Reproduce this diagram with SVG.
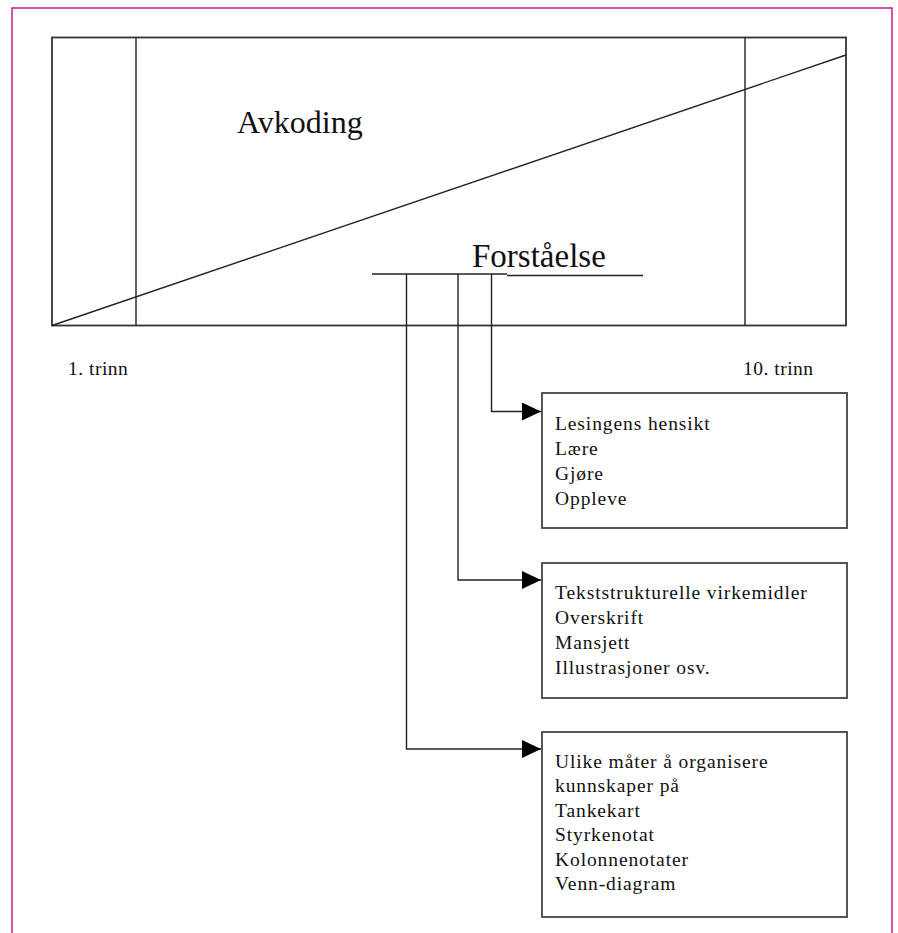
<svg xmlns="http://www.w3.org/2000/svg" width="898" height="933" viewBox="0 0 898 933">
<style>
.ln{stroke:#222;stroke-width:1.4;fill:none}
.bx{stroke:#444;stroke-width:1.8;fill:#fff}
text{font-family:'Liberation Serif','DejaVu Serif',serif;fill:#111}
.bt{font-size:19.5px;letter-spacing:0.9px}
</style>
<defs>
<marker id="ah" markerWidth="20" markerHeight="18" refX="19" refY="9" markerUnits="userSpaceOnUse" orient="auto">
<path d="M0,0 L19,9 L0,18 Z" fill="#000"/>
</marker>
</defs>
<rect width="898" height="933" fill="#fff"/>
<path d="M12,933 V8 H892 V933" stroke="#d0169a" stroke-width="1.5" fill="none"/>
<g id="scale">
<rect x="52" y="37.5" width="794" height="288" fill="none" stroke="#333" stroke-width="1.8"/>
<line class="ln" x1="136" y1="37.5" x2="136" y2="325.5"/>
<line class="ln" x1="745" y1="37.5" x2="745" y2="325.5"/>
<line class="ln" x1="52" y1="325.5" x2="846" y2="55"/>
<text x="237" y="133" font-size="32" font-family="Liberation Serif, serif">Avkoding</text>
<text x="472" y="267" font-size="33" font-family="Liberation Serif, serif">Forståelse</text>
<line class="ln" x1="372" y1="274" x2="507" y2="274"/>
<line class="ln" x1="507" y1="275.5" x2="643" y2="275.5"/>
<text x="68" y="375" font-size="19.5" letter-spacing="0.5" font-family="Liberation Serif, serif">1. trinn</text>
<text x="743" y="375" font-size="19.5" letter-spacing="0.5" font-family="Liberation Serif, serif">10. trinn</text>
</g>
<g id="connectors">
<path class="ln" d="M491.5,274 V411.5 H541" marker-end="url(#ah)"/>
<path class="ln" d="M458,274 V580 H541" marker-end="url(#ah)"/>
<path class="ln" d="M406.5,274 V749 H541" marker-end="url(#ah)"/>
</g>
<g id="box1" font-family="Liberation Serif, serif">
<rect class="bx" x="542" y="393" width="305" height="135"/>
<text class="bt" x="555" y="430">Lesingens hensikt</text>
<text class="bt" x="555" y="455">Lære</text>
<text class="bt" x="555" y="480">Gjøre</text>
<text class="bt" x="555" y="505">Oppleve</text>
</g>
<g id="box2" font-family="Liberation Serif, serif">
<rect class="bx" x="542" y="563" width="305" height="135"/>
<text class="bt" x="555" y="599">Tekststrukturelle virkemidler</text>
<text class="bt" x="555" y="624">Overskrift</text>
<text class="bt" x="555" y="649">Mansjett</text>
<text class="bt" x="555" y="674">Illustrasjoner osv.</text>
</g>
<g id="box3" font-family="Liberation Serif, serif">
<rect class="bx" x="542" y="732" width="305" height="185"/>
<text class="bt" x="555" y="768">Ulike måter å organisere</text>
<text class="bt" x="555" y="792">kunnskaper på</text>
<text class="bt" x="555" y="817">Tankekart</text>
<text class="bt" x="555" y="841">Styrkenotat</text>
<text class="bt" x="555" y="866">Kolonnenotater</text>
<text class="bt" x="555" y="890">Venn-diagram</text>
</g>
</svg>
